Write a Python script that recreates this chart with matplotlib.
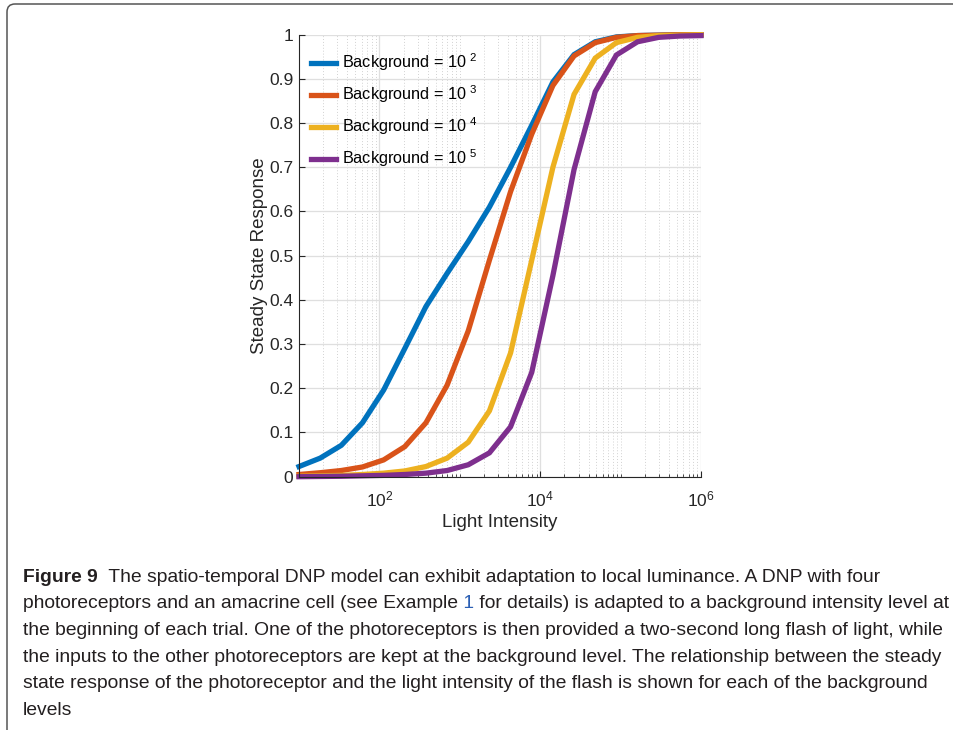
import matplotlib
matplotlib.use("Agg")
import matplotlib.pyplot as plt
import numpy as np
from matplotlib import font_manager
from matplotlib.patches import FancyBboxPatch
from matplotlib.transforms import IdentityTransform
from matplotlib.ticker import FixedLocator, NullFormatter, LogFormatterMathtext

plt.rcParams['font.family'] = ['Liberation Sans', 'DejaVu Sans']
plt.rcParams['mathtext.fontset'] = 'custom'
plt.rcParams['mathtext.rm'] = 'Liberation Sans'
plt.rcParams['mathtext.it'] = 'Liberation Sans:italic'
plt.rcParams['mathtext.bf'] = 'Liberation Sans:bold'

# flash intensities (20 log-spaced samples from 10 to 1e6)
intensity = [10, 18.33, 33.60, 61.58, 112.9, 206.9, 379.3, 695.2, 1274, 2336,
             4281, 7848, 14384, 26367, 48329, 88587, 162378, 297635, 545559, 1000000]

# steady state response for each background level
resp_bg2 = [0.023, 0.042, 0.071, 0.122, 0.196, 0.290, 0.385, 0.460, 0.532, 0.610,
            0.700, 0.795, 0.893, 0.955, 0.984, 0.995, 0.998, 0.999, 1.0, 1.0]
resp_bg3 = [0.005, 0.009, 0.014, 0.022, 0.038, 0.068, 0.122, 0.207, 0.330, 0.490,
            0.645, 0.775, 0.885, 0.952, 0.982, 0.994, 0.998, 0.999, 1.0, 1.0]
resp_bg4 = [0.001, 0.002, 0.003, 0.005, 0.008, 0.013, 0.023, 0.042, 0.078, 0.149,
            0.280, 0.490, 0.700, 0.865, 0.947, 0.982, 0.994, 0.998, 0.999, 1.0]
resp_bg5 = [0.0, 0.0005, 0.001, 0.002, 0.003, 0.005, 0.008, 0.014, 0.027, 0.054,
            0.113, 0.236, 0.455, 0.695, 0.871, 0.954, 0.984, 0.994, 0.997, 0.998]

bg_exponents = [2, 3, 4, 5]
colors = ['#0072BD', '#D95319', '#EDB120', '#7E2F8E']

caption_lines = [
    [("Figure 9", "bold", "#231f20"),
     ("  The spatio-temporal DNP model can exhibit adaptation to local luminance. A DNP with four", "normal", "#231f20")],
    [("photoreceptors and an amacrine cell (see Example", "normal", "#231f20"),
     (" 1", "normal", "#2b5fb4"),
     (" for details) is adapted to a background intensity level at", "normal", "#231f20")],
    [("the beginning of each trial. One of the photoreceptors is then provided a two-second long flash of light, while", "normal", "#231f20")],
    [("the inputs to the other photoreceptors are kept at the background level. The relationship between the steady", "normal", "#231f20")],
    [("state response of the photoreceptor and the light intensity of the flash is shown for each of the background", "normal", "#231f20")],
    [("levels", "normal", "#231f20")],
]

W, H = 954, 730
fig = plt.figure(figsize=(W / 100, H / 100), dpi=100)

# rounded frame around figure + caption
frame = FancyBboxPatch((7, -12), 980, H - 4 + 12, boxstyle="round,pad=0,rounding_size=8",
                       transform=IdentityTransform(), facecolor='none',
                       edgecolor='#555555', linewidth=1.1)
fig.patches.append(frame)

ax = fig.add_axes([299 / W, 1 - 476.7 / H, 402 / W, 442 / H])

series = [resp_bg2, resp_bg3, resp_bg4, resp_bg5]
for resp, e, c in zip(series, bg_exponents, colors):
    ax.plot(intensity, resp, color=c, lw=3.8, label=f'Background = 10 $^{{{e}}}$',
            clip_on=False, solid_joinstyle='miter')

ax.set_xscale('log')
ax.set_xlim(10, 1e6)
ax.set_ylim(0, 1)
ax.xaxis.set_major_locator(FixedLocator([1e2, 1e4, 1e6]))
ax.xaxis.set_major_formatter(LogFormatterMathtext())
minor = [k * 10 ** n for n in range(1, 6) for k in range(1, 10)]
minor = [m for m in minor if m not in (100, 10000)]
ax.xaxis.set_minor_locator(FixedLocator(minor))
ax.xaxis.set_minor_formatter(NullFormatter())
ax.set_yticks(np.arange(0, 1.01, 0.1))
ax.set_yticklabels([f'{v:g}' for v in np.arange(0, 1.01, 0.1).round(1)])

ax.grid(True, which='major', color='#dfdfdf', lw=0.9, ls='-')
ax.grid(True, which='minor', axis='x', color='#d2d2d2', lw=0.7, ls=(0, (1, 2)))
ax.set_axisbelow(True)

for s in ['top', 'right']:
    ax.spines[s].set_visible(False)
for s in ['left', 'bottom']:
    ax.spines[s].set_color('#262626')
    ax.spines[s].set_linewidth(0.8)

ax.tick_params(which='both', direction='in', colors='#262626', labelsize=12.5)
ax.tick_params(axis='y', which='major', length=4, pad=4)
ax.tick_params(axis='x', which='major', length=4, pad=9)
ax.tick_params(axis='x', which='minor', length=2.5)

ax.set_xlabel('Light Intensity', fontsize=13.5, color='#262626')
ax.set_ylabel('Steady State Response', fontsize=13.5, color='#262626')
ax.xaxis.set_label_coords(0.5, -0.084)
ax.yaxis.set_label_coords(-0.078, 0.5)

ax.legend(loc='upper left', bbox_to_anchor=(0.03, 0.962), frameon=False,
          fontsize=11.7, handlelength=1.55, handletextpad=0.35, labelspacing=0.64,
          borderpad=0, borderaxespad=0)

# caption
names = {f.name for f in font_manager.fontManager.ttflist}
cap_family = 'Liberation Sans Narrow' if 'Liberation Sans Narrow' in names else 'Liberation Sans'
renderer = fig.canvas.get_renderer()
probe = fig.text(0, 0, caption_lines[2][0][0], fontsize=14, family=cap_family)
pw = probe.get_window_extent(renderer=renderer).width
probe.remove()
cap_size = min(14.5, 14 * 924 / pw)

x0 = 23
baseline0 = 581.5
line_gap = 26.7
for i, segs in enumerate(caption_lines):
    x = x0
    y = H - (baseline0 + i * line_gap)
    for txt, weight, col in segs:
        t = fig.text(x / W, y / H, txt, fontsize=cap_size, family=cap_family,
                     weight=weight, color=col, va='baseline', ha='left')
        x += t.get_window_extent(renderer=renderer).width

fig.savefig('out.png', dpi=100)
